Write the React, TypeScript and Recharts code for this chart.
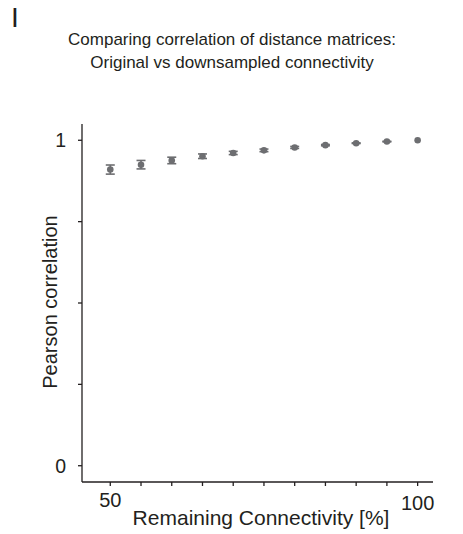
import React from 'react';
import { ScatterChart, Scatter, XAxis, YAxis, ErrorBar } from 'recharts';

// remaining connectivity (%) and mean Pearson correlation with its error
const connectivity = [50, 55, 60, 65, 70, 75, 80, 85, 90, 95, 100];
const correlation = [0.91, 0.925, 0.938, 0.951, 0.961, 0.969, 0.978, 0.985, 0.991, 0.996, 1.0];
const errors = [0.014, 0.013, 0.01, 0.007, 0.005, 0.004, 0.003, 0.002, 0.001, 0.001, 0];

const xTicks = [50, 55, 60, 65, 70, 75, 80, 85, 90, 95, 100];
const yTicks = [0, 0.25, 0.5, 0.75, 1];
const xTickLabels = ['50', '100'];
const yTickLabels = ['0', '1'];

const data = connectivity.map((x, i) => ({ x, y: correlation[i], err: errors[i] }));

const FONT = '"Liberation Sans", Arial, sans-serif';
const AXIS = '#231f20';
const DOT = '#6d6e71';

const XTick = (props: any) => {
  const { x, y, payload } = props;
  const label = String(payload.value);
  if (!xTickLabels.includes(label)) return null;
  return (
    <text x={x} y={y + (label === '100' ? 22 : 19)} textAnchor="middle" fontSize={20} fontFamily={FONT} fill={AXIS}>
      {label}
    </text>
  );
};

const YTick = (props: any) => {
  const { x, y, payload } = props;
  const label = String(payload.value);
  if (!yTickLabels.includes(label)) return null;
  return (
    <text x={x - 10} y={y + 7} textAnchor="end" fontSize={19.5} fontFamily={FONT} fill={AXIS}>
      {label}
    </text>
  );
};

const Dot = (props: any) => <circle cx={props.cx} cy={props.cy} r={3.3} fill={DOT} />;

export default function App() {
  return (
    <div style={{ position: 'absolute', left: 0, top: 0, width: 463, height: 534, background: '#fff', fontFamily: FONT, color: AXIS }}>
      <div style={{ position: 'absolute', left: 11, top: 2, fontSize: 28, lineHeight: '32px' }}>I</div>
      <div style={{ position: 'absolute', left: 232, top: 28, transform: 'translateX(-50%)', whiteSpace: 'nowrap', textAlign: 'center', fontSize: 17, lineHeight: '23px' }}>
        Comparing correlation of distance matrices:
        <br />
        Original vs downsampled connectivity
      </div>
      <ScatterChart width={463} height={534} margin={{ top: 124, right: 30, bottom: 0, left: 0 }}>
        <XAxis
          type="number"
          dataKey="x"
          domain={[45.4, 102.5]}
          ticks={xTicks}
          height={52}
          stroke={AXIS}
          strokeWidth={1.3}
          tickSize={4}
          tick={<XTick />}
          allowDataOverflow
        />
        <YAxis
          type="number"
          dataKey="y"
          domain={[-0.05, 1.05]}
          ticks={yTicks}
          width={82}
          stroke={AXIS}
          strokeWidth={1.3}
          tickSize={4}
          tick={<YTick />}
          allowDataOverflow
        />
        <Scatter data={data} shape={<Dot />} isAnimationActive={false}>
          <ErrorBar dataKey="err" direction="y" width={4.5} stroke={DOT} strokeWidth={1.6} />
        </Scatter>
      </ScatterChart>
      <div style={{ position: 'absolute', left: 50, top: 302, transform: 'translate(-50%, -50%) rotate(-90deg)', whiteSpace: 'nowrap', fontSize: 20, lineHeight: '24px' }}>
        Pearson correlation
      </div>
      <div style={{ position: 'absolute', left: 261, top: 506, transform: 'translateX(-50%)', whiteSpace: 'nowrap', fontSize: 21, lineHeight: '24px' }}>
        Remaining Connectivity [%]
      </div>
    </div>
  );
}
